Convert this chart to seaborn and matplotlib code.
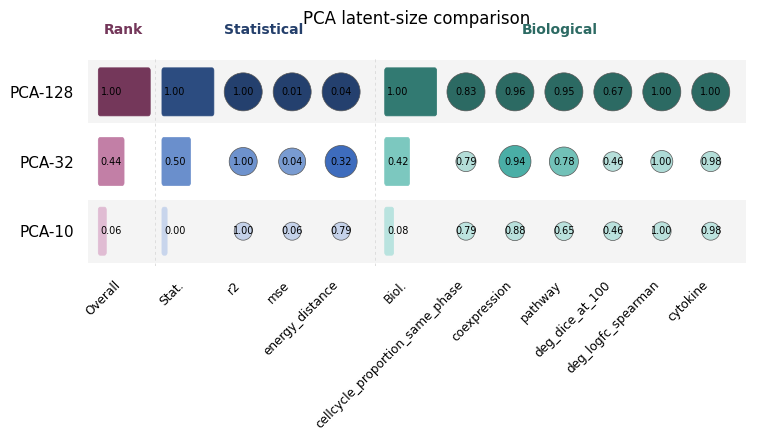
import numpy as np
import pandas as pd
import matplotlib
matplotlib.use("Agg")
import matplotlib.pyplot as plt
import seaborn as sns
from matplotlib.colors import LinearSegmentedColormap
from matplotlib.patches import FancyBboxPatch
import matplotlib.transforms as mtransforms

# === Données ===
models = ["PCA-128", "PCA-32", "PCA-10"]

overall = [1.00, 0.44, 0.06]
stat_agg = [1.00, 0.50, 0.00]
bio_agg = [1.00, 0.42, 0.08]

stat_metrics = ["r2", "mse", "energy_distance"]
stat_values = {
    "r2": [1.00, 1.00, 1.00],
    "mse": [0.01, 0.04, 0.06],
    "energy_distance": [0.04, 0.32, 0.79],
}
# score normalisé (taille / couleur des cercles)
stat_scores = {
    "r2": [1.00, 0.43, 0.03],
    "mse": [1.00, 0.38, 0.03],
    "energy_distance": [1.00, 0.64, 0.03],
}

bio_metrics = ["cellcycle_proportion_same_phase", "coexpression", "pathway",
               "deg_dice_at_100", "deg_logfc_spearman", "cytokine"]
bio_values = {
    "cellcycle_proportion_same_phase": [0.83, 0.79, 0.79],
    "coexpression": [0.96, 0.94, 0.88],
    "pathway": [0.95, 0.78, 0.65],
    "deg_dice_at_100": [0.67, 0.46, 0.46],
    "deg_logfc_spearman": [1.00, 1.00, 1.00],
    "cytokine": [1.00, 0.98, 0.98],
}
bio_scores = {
    "cellcycle_proportion_same_phase": [1.00, 0.10, 0.03],
    "coexpression": [1.00, 0.64, 0.06],
    "pathway": [1.00, 0.48, 0.05],
    "deg_dice_at_100": [1.00, 0.08, 0.05],
    "deg_logfc_spearman": [1.00, 0.17, 0.05],
    "cytokine": [1.00, 0.10, 0.03],
}

# === Mise en page des colonnes ===
col_names = ["Overall", "Stat."] + stat_metrics + ["Biol."] + bio_metrics
col_x = [0.0, 1.3, 2.45, 3.45, 4.45, 5.85, 7.0, 8.0, 9.0, 10.0, 11.0, 12.0]
xpos = dict(zip(col_names, col_x))

cmap_rank = LinearSegmentedColormap.from_list("rank", [(0, "#e4c5d8"), (0.06, "#e0bcd3"), (0.44, "#c27fa6"), (1, "#74375a")])
cmap_statbar = LinearSegmentedColormap.from_list("statbar", [(0, "#c8d5ec"), (0.5, "#6a8fcc"), (1, "#2c4c80")])
cmap_biobar = LinearSegmentedColormap.from_list("biobar", [(0, "#bfe6e2"), (0.08, "#b9e3df"), (0.42, "#7cc8bf"), (1, "#327a72")])
cmap_stat = LinearSegmentedColormap.from_list("stat", [(0, "#c8d4ea"), (0.1, "#b9c9e6"), (0.4, "#7598cf"), (0.64, "#3e6cbd"), (1, "#24406e")])
cmap_bio = LinearSegmentedColormap.from_list("bio", [(0, "#c0e5e1"), (0.1, "#b3ddd8"), (0.17, "#aedbd6"), (0.48, "#72c1b8"), (0.64, "#4aaea6"), (1, "#2c6a63")])

sns.set_style("white")
plt.rcParams["text.color"] = "black"
plt.rcParams["xtick.color"] = "black"
plt.rcParams["ytick.color"] = "black"

fig = plt.figure(figsize=(7.6, 4.43), dpi=100)
ax = fig.add_axes([0.1158, 0.3995, 0.8658, 0.4718])

x_min, x_max = -0.72, 12.72
ax.set_xlim(x_min, x_max)
ax.set_ylim(2.5, -0.5)

# bandes grises
for i in range(len(models)):
    if i % 2 == 0:
        ax.axhspan(i - 0.45, i + 0.45, color="#f4f4f4", zorder=0, lw=0)

# séparateurs
for xs in [(xpos["Overall"] + xpos["Stat."]) / 2, (xpos["energy_distance"] + xpos["Biol."]) / 2]:
    ax.axvline(xs, color="#dddddd", lw=0.7, ls=(0, (3, 3)), zorder=0.5)

# barres agrégées
bar_h = 0.69
for name, vals, cm in [("Overall", overall, cmap_rank), ("Stat.", stat_agg, cmap_statbar), ("Biol.", bio_agg, cmap_biobar)]:
    x0 = xpos[name] - 0.51
    for i, v in enumerate(vals):
        w = 0.106 + 0.955 * v
        patch = FancyBboxPatch((x0, i - bar_h / 2), w, bar_h,
                               boxstyle="round,pad=0,rounding_size=0.04",
                               facecolor=cm(v), edgecolor=cm(v), lw=0.5, zorder=2)
        ax.add_patch(patch)
        ax.text(x0 + 0.05, i, f"{v:.2f}", ha="left", va="center", fontsize=7, zorder=4)

# cercles
for metrics, values, scores, cm in [(stat_metrics, stat_values, stat_scores, cmap_stat),
                                    (bio_metrics, bio_values, bio_scores, cmap_bio)]:
    rows = []
    for m in metrics:
        for i in range(len(models)):
            rows.append({"x": xpos[m], "y": i, "score": scores[m][i], "val": values[m][i]})
    df = pd.DataFrame(rows)
    sns.scatterplot(data=df, x="x", y="y", hue="score", palette=cm, hue_norm=(0, 1),
                    size="score", sizes=(150, 749), size_norm=(0, 1),
                    edgecolor="#555555", linewidth=0.5, legend=False, ax=ax, zorder=3)
    for _, r in df.iterrows():
        ax.text(r["x"], r["y"], f"{r['val']:.2f}", ha="center", va="center", fontsize=7, zorder=4)

# axes
ax.set_xticks(col_x)
ax.set_xticklabels(col_names, rotation=45, ha="right", fontsize=8.7)
ax.set_yticks(range(len(models)))
ax.set_yticklabels(models, fontsize=11)
ax.tick_params(axis="both", length=0)
ax.tick_params(axis="y", pad=10)
ax.tick_params(axis="x", pad=9)
ax.set_xlabel("")
ax.set_ylabel("")
for s in ax.spines.values():
    s.set_visible(False)

# en-têtes de groupes
trans = mtransforms.blended_transform_factory(ax.transData, ax.transAxes)
ax.text(xpos["Overall"], 1.13, "Rank", transform=trans, ha="center", va="center",
        fontsize=10, fontweight="bold", color="#74375a")
ax.text((xpos["Stat."] + xpos["energy_distance"]) / 2, 1.13, "Statistical", transform=trans,
        ha="center", va="center", fontsize=10, fontweight="bold", color="#243f6b")
ax.text((xpos["Biol."] + xpos["cytokine"]) / 2, 1.13, "Biological", transform=trans,
        ha="center", va="center", fontsize=10, fontweight="bold", color="#2c6a63")

ax.set_title("PCA latent-size comparison", fontsize=12, pad=24)

plt.savefig("out.png", dpi=100)
plt.close()
